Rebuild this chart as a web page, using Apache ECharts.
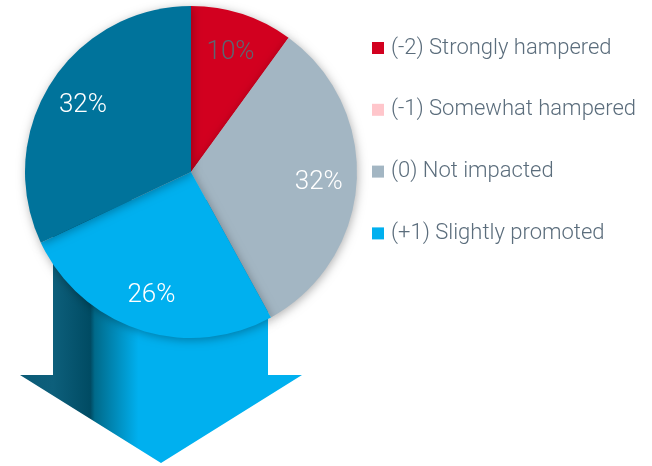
<!DOCTYPE html>
<html>
<head>
<meta charset="utf-8">
<script src="https://cdn.jsdelivr.net/npm/echarts@6/dist/echarts.min.js"></script>
<style>
html,body{margin:0;padding:0;background:#fff;}
#c{width:652px;height:466px;}
</style>
</head>
<body>
<div id="c"></div>
<script>
const categories = ['(-2) Strongly hampered', '(-1) Somewhat hampered', '(0) Not impacted', '(+1) Slightly promoted', '(+2) Strongly promoted'];
const values = [10, 0, 32, 26, 32];
const colors = ['#d2001f', '#ffc6cb', '#a3b6c3', '#00b0ef', '#00739b'];
const labelColors = ['#5c6672', '#ffffff', '#ffffff', '#ffffff', '#ffffff'];
const legendNames = categories.slice(0, 4);

const chart = echarts.init(document.getElementById('c'), null, {renderer: 'canvas'});
const FONT = 'Roboto';

const pieData = categories.map((n, i) => ({name: n, value: values[i], itemStyle: {color: colors[i]}}));
const labelData = categories.map((n, i) => ({
  name: n, value: values[i],
  itemStyle: {color: 'rgba(0,0,0,0)'},
  label: {show: values[i] > 0, color: labelColors[i]}
}));

chart.setOption({
  animation: false,
  legend: {
    orient: 'vertical',
    left: 372,
    top: 37,
    padding: 0,
    itemWidth: 12,
    itemHeight: 12,
    itemGap: 39.8,
    icon: 'rect',
    selectedMode: false,
    data: legendNames.map((n) => ({name: n, itemStyle: {color: colors[categories.indexOf(n)]}})),
    textStyle: {fontFamily: FONT, fontSize: 22, fontWeight: 300, color: '#5b6d7c', lineHeight: 22, padding: [0, 0, 0, 2]}
  },
  graphic: [{
    type: 'polygon',
    z: 0,
    silent: true,
    shape: {points: [[53, 200], [268, 200], [268, 375], [302, 375], [161, 463], [20, 375], [53, 375]]},
    style: {
      fill: {
        type: 'linear', x: 20, y: 0, x2: 302, y2: 0, global: true,
        colorStops: [
          {offset: 0, color: '#0b5a76'},
          {offset: 0.117, color: '#0d5f7b'},
          {offset: 0.25, color: '#004b63'},
          {offset: 0.265, color: '#006a8a'},
          {offset: 0.42, color: '#00b0ef'},
          {offset: 1, color: '#00b0ef'}
        ]
      }
    }
  }],
  series: [{
    type: 'pie',
    z: 2,
    center: [191, 172],
    radius: [0, 166],
    startAngle: 90,
    clockwise: true,
    silent: true,
    label: {show: false},
    labelLine: {show: false},
    itemStyle: {borderWidth: 0, shadowBlur: 10, shadowOffsetY: 2, shadowOffsetX: 1, shadowColor: 'rgba(0,0,0,0.3)'},
    data: pieData
  }, {
    type: 'pie',
    z: 3,
    center: [191, 174],
    radius: [86, 164],
    startAngle: 90,
    clockwise: true,
    silent: true,
    label: {position: 'inside', fontFamily: FONT, fontSize: 26, fontWeight: 300, formatter: (p) => p.value + '%'},
    labelLine: {show: false},
    data: labelData
  }]
});
</script>
</body>
</html>
